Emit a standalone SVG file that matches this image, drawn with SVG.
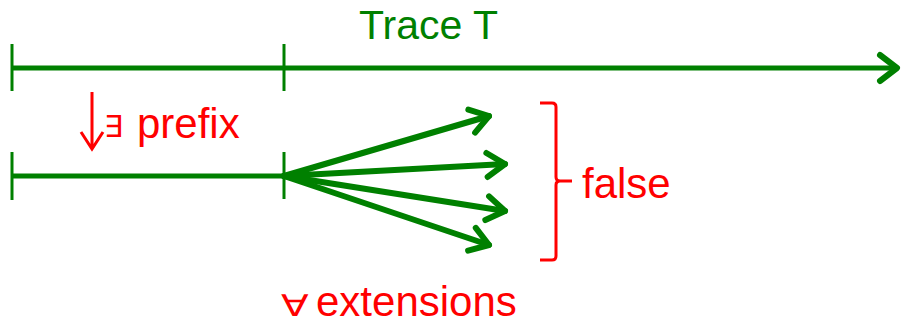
<svg xmlns="http://www.w3.org/2000/svg" width="901" height="324" viewBox="0 0 901 324">
<defs>
<style>
.ln{stroke:#008000;stroke-width:5;fill:none}
.tk{stroke:#008000;stroke-width:3;fill:none}
.ar{stroke:#008000;stroke-width:6;fill:none;stroke-linecap:round;stroke-linejoin:round}
.rd{stroke:#FF0000;stroke-width:3;fill:none}
.tg{font-family:"Liberation Sans",Arial,sans-serif;font-size:41px;fill:#008000}
.tr{font-family:"Liberation Sans","DejaVu Sans",Arial,sans-serif;font-size:42px;fill:#FF0000}
.sym{font-family:"DejaVu Sans",sans-serif;font-size:30px;fill:#FF0000}
</style>
<marker id="chev" viewBox="0 0 12 12" refX="10" refY="6" markerWidth="12" markerHeight="12" markerUnits="userSpaceOnUse" orient="auto" overflow="visible">
<path d="M-8,-6 L10,6 L-8,18" stroke="#008000" stroke-width="6" fill="none" stroke-linecap="round" stroke-linejoin="round"/>
</marker>
</defs>
<g id="trace">
<line class="ln" x1="12" y1="68" x2="894" y2="68"/>
<path class="ar" d="M880,55 L897,68 L880,81"/>
<line class="tk" x1="12" y1="44" x2="12" y2="91"/>
<line class="tk" x1="284" y1="44" x2="284" y2="91"/>
<text class="tg" x="359" y="39">Trace T</text>
</g>
<g id="prefix">
<line class="ln" x1="12" y1="176" x2="284" y2="176"/>
<line class="tk" x1="12" y1="152" x2="12" y2="200"/>
<line class="tk" x1="284" y1="152" x2="284" y2="199"/>
<path d="M92,92 L92,149 M81,132 L92,149 L103,132" stroke="#FF0000" stroke-width="3" fill="none"/>
<text x="104" y="137" class="sym">∃</text>
<text class="tr" x="137" y="138">prefix</text>
</g>
<g id="connectors">
<line class="ar" x1="284" y1="176" x2="489" y2="116" marker-end="url(#chev)"/>
<line class="ar" x1="284" y1="176" x2="505" y2="164" marker-end="url(#chev)"/>
<line class="ar" x1="284" y1="176" x2="505" y2="211" marker-end="url(#chev)"/>
<line class="ar" x1="284" y1="176" x2="489" y2="245" marker-end="url(#chev)"/>
</g>
<g id="false">
<path class="rd" d="M540,103 L552,103 Q556,103 556,107 L556,177 Q556,181 560,181 L572,181 M560,181 Q556,181 556,185 L556,256 Q556,260 552,260 L540,260"/>
<text class="tr" x="582" y="198">false</text>
</g>
<g id="extensions">
<text class="sym" transform="translate(281,316) scale(1.35,1)">∀</text>
<text class="tr" x="316" y="316">extensions</text>
</g>
</svg>
